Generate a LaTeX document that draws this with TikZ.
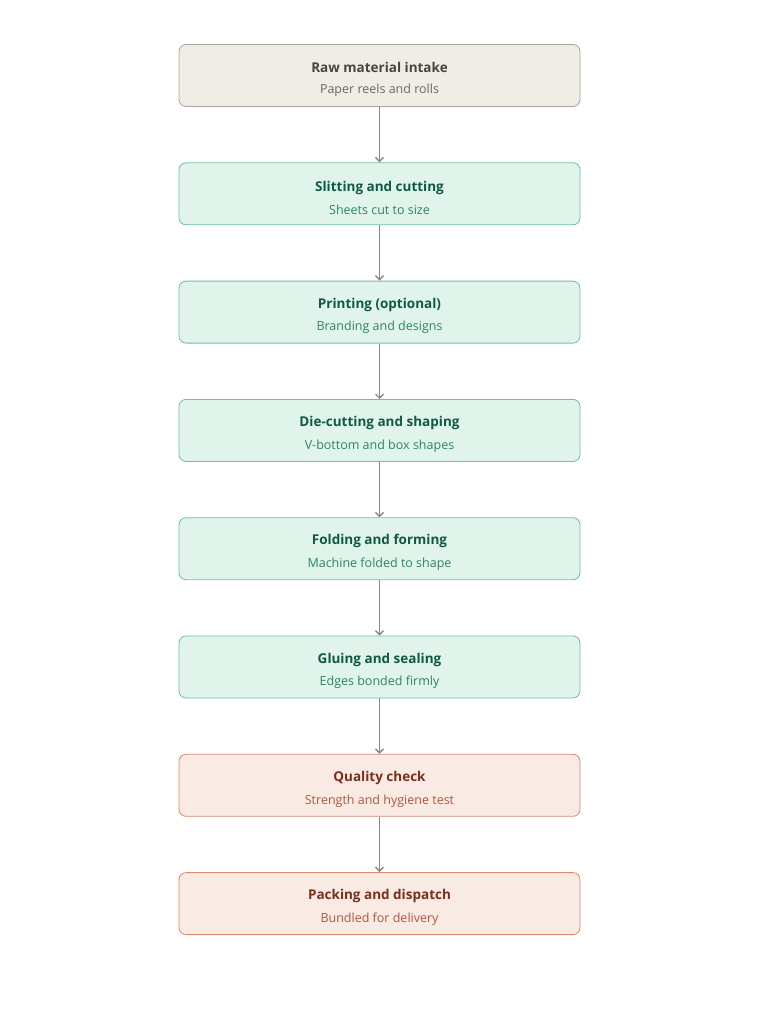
\documentclass[tikz,border=0pt]{standalone}
\usepackage{fontspec}
\setmainfont{Open Sans}
\usetikzlibrary{arrows.meta, positioning}
\definecolor{rawfill}{HTML}{F0EDE6}
\definecolor{rawline}{HTML}{A9A59C}
\definecolor{rawtitle}{HTML}{474540}
\definecolor{rawsub}{HTML}{6B6862}
\definecolor{makefill}{HTML}{E1F4EC}
\definecolor{makeline}{HTML}{6FBF9E}
\definecolor{maketitle}{HTML}{0F5A44}
\definecolor{makesub}{HTML}{2B8563}
\definecolor{endfill}{HTML}{FAEAE4}
\definecolor{endline}{HTML}{D58B72}
\definecolor{endtitle}{HTML}{7A2F1B}
\definecolor{endsub}{HTML}{B0573C}
\definecolor{flowline}{HTML}{8A8884}
\newcommand{\boxlines}[3]{{\fontsize{13.5}{16}\selectfont\bfseries\rule{0pt}{18pt}#2}\\[9pt]{\fontsize{12.5}{14}\selectfont\color{#1}#3}}
\tikzset{>={Straight Barb[length=4pt,width=8pt]},
    node distance=118.3pt,
    stepbox/.style={rectangle,rounded corners=7pt,draw,line width=0.8pt,
        minimum width=401pt,minimum height=62pt,align=center},
    rawbox/.style={stepbox,fill=rawfill,draw=rawline,text=rawtitle},
    makebox/.style={stepbox,fill=makefill,draw=makeline,text=maketitle},
    endbox/.style={stepbox,fill=endfill,draw=endline,text=endtitle},
    flow/.style={->,draw=flowline,line width=1.4pt}}
\begin{document}
\begin{tikzpicture}
\useasboundingbox (0,0) rectangle (759pt,-1024pt);
\node[rawbox] (raw) at (379.5pt,-75.5pt) {\boxlines{rawsub}{Raw material intake}{Paper reels and rolls}};
\node[makebox] (slit) [below of = raw] {\boxlines{makesub}{Slitting and cutting}{Sheets cut to size}};
\node[makebox] (print) [below of = slit] {\boxlines{makesub}{Printing (optional)}{Branding and designs}};
\node[makebox] (die) [below of = print] {\boxlines{makesub}{Die-cutting and shaping}{V-bottom and box shapes}};
\node[makebox] (fold) [below of = die] {\boxlines{makesub}{Folding and forming}{Machine folded to shape}};
\node[makebox] (glue) [below of = fold] {\boxlines{makesub}{Gluing and sealing}{Edges bonded firmly}};
\node[endbox] (check) [below of = glue] {\boxlines{endsub}{Quality check}{Strength and hygiene test}};
\node[endbox] (pack) [below of = check] {\boxlines{endsub}{Packing and dispatch}{Bundled for delivery}};
\path[flow]
	(raw)	edge	(slit)
	(slit)	edge	(print)
	(print)	edge	(die)
	(die)	edge	(fold)
	(fold)	edge	(glue)
	(glue)	edge	(check)
	(check)	edge	(pack);
\end{tikzpicture}
\end{document}
